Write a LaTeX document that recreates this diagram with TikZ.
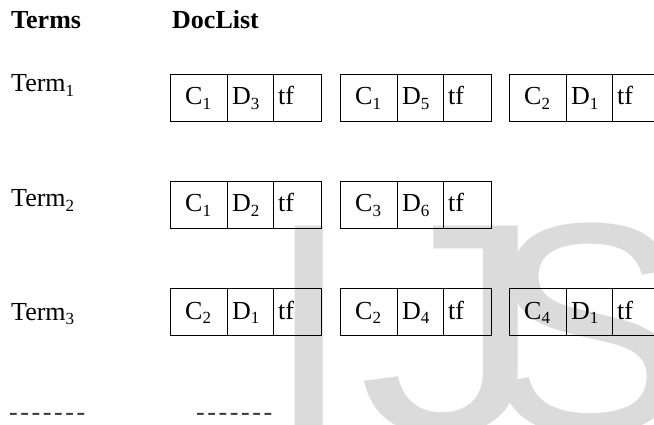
\documentclass[tikz,border=0pt]{standalone}
\usepackage{fontspec}
\setmainfont{Liberation Serif}
\newfontfamily\wmfont{Liberation Sans}
\newcommand\sbs[1]{\raisebox{-4.5pt}{\fontsize{17}{17}\selectfont #1}}
% one posting: name, x, y, C index, D index
\newcommand\posting[5]{%
  \node[cw1] (#1c) at (#2,#3) {};
  \node[cw2] (#1d) at ([xshift=57pt]#1c.north west) {};
  \node[cw3] (#1t) at ([xshift=46pt]#1d.north west) {};
  \node[ctext] (#1ct) at ([xshift=15pt,yshift=-31pt]#1c.north west) {C\sbs{#4}};
  \node[ctext] (#1dt) at ([xshift=5pt,yshift=-31pt]#1d.north west) {D\sbs{#5}};
  \node[ctext] (#1tt) at ([xshift=5pt,yshift=-31pt]#1t.north west) {tf};
}
\begin{document}
\begin{tikzpicture}[x=1pt,y=-1pt,
  cell/.style={draw=black, line width=1.1pt, inner sep=0pt, minimum height=47pt, anchor=north west},
  cw1/.style={cell, minimum width=57pt},
  cw2/.style={cell, minimum width=46pt},
  cw3/.style={cell, minimum width=48pt},
  ctext/.style={anchor=base west, inner sep=0pt, font=\fontsize{26}{26}\selectfont},
  lbl/.style={anchor=base west, inner sep=0pt, font=\fontsize{26}{26}\selectfont},
  hdr/.style={anchor=base west, inner sep=0pt, font=\fontsize{26}{26}\selectfont\bfseries},
  dsh/.style={anchor=base west, inner sep=0pt, text=black!80, font=\fontsize{26}{26}\selectfont\addfontfeature{Ligatures=TeXOff,LetterSpace=10}},
  wm/.style={anchor=base west, inner sep=0pt, text=black!14, font=\wmfont\fontsize{300}{300}\selectfont}]
\useasboundingbox (0,0) rectangle (654,425);
\fill[white] (0,0) rectangle (654,425);
\node[wm] (wmI) at (267,432) {I};
\node[wm, xscale=1.25] (wmJ) at (358,432) {J};
\node[wm] (wmS) at (488,432) {S};
\node[hdr] (terms) at (11,29) {Terms};
\node[hdr] (doclist) at (172,29) {DocList};
\node[lbl] (t1) at (11,92) {Term\sbs{1}};
\node[lbl] (t2) at (11,207) {Term\sbs{2}};
\node[lbl] (t3) at (11,320) {Term\sbs{3}};
% row 1
\posting{a}{170}{74}{1}{3}
\posting{b}{340}{74}{1}{5}
\posting{c}{509}{74}{2}{1}
% row 2
\posting{d}{170}{181}{1}{2}
\posting{e}{340}{181}{3}{6}
% row 3
\posting{f}{170}{288}{2}{1}
\posting{g}{340}{288}{2}{4}
\posting{h}{509}{288}{4}{1}
% dashes
\node[dsh] (dd1) at (9,420) {-------};
\node[dsh] (dd2) at (196,420) {-------};
\end{tikzpicture}
\end{document}
